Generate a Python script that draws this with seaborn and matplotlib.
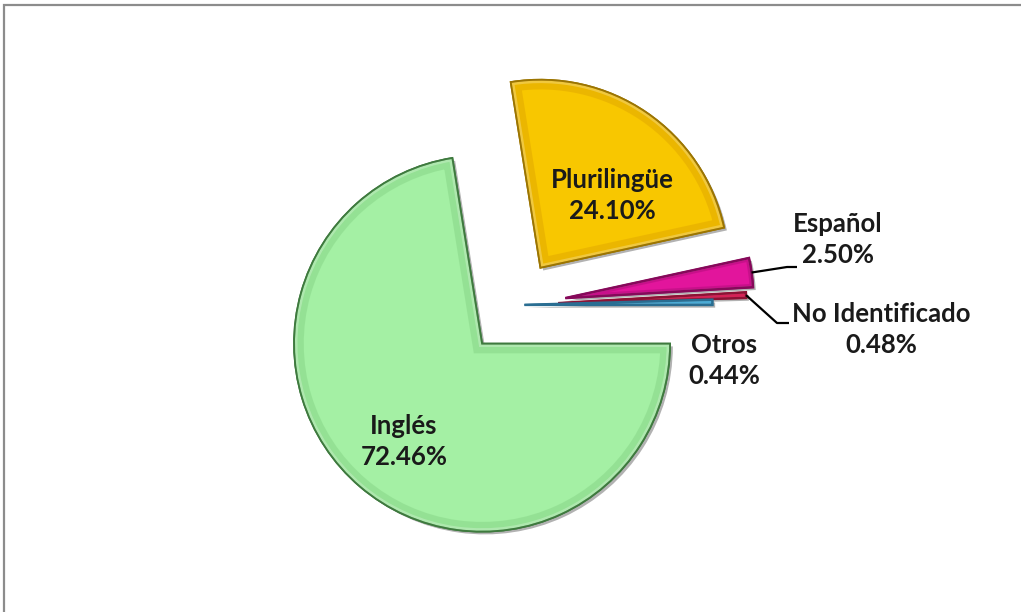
import matplotlib
matplotlib.use("Agg")
import numpy as np
import matplotlib.pyplot as plt
import seaborn as sns
from matplotlib import patheffects as pe
from matplotlib.patches import PathPatch, Rectangle

# Idioma de los documentos (porcentaje del total)
categorias = ["Inglés", "Plurilingüe", "Español", "No Identificado", "Otros"]
porcentajes = [72.46, 24.10, 2.50, 0.48, 0.44]
colores = ["#A4F0A4", "#F8C700", "#E2159C", "#EC2D66", "#5DBDE6"]
bordes = ["#3E7A3E", "#9C7500", "#86095A", "#8C1234", "#2A6E92"]
biseles = ["#86D486", "#E0A600", "#B00D7A", "#C01848", "#3D9CC8"]
separacion = [0.27, 0.24, 0.27, 0.23, 0.05]

sns.set_theme(style="white")
plt.rcParams["font.family"] = ["Lato", "DejaVu Sans"]

W, H, DPI = 1021, 612, 100
R_PX = 188.0           # pie radius in pixels
CX, CY = 515.0, 305.0  # pie centre in pixels (from top-left)


def px(x, y):
    """Pixel position (from top-left) to data coordinates of the pie axes."""
    return ((x - CX) / R_PX, (CY - y) / R_PX)


fig = plt.figure(figsize=(W / DPI, H / DPI), dpi=DPI, facecolor="white")
ax = fig.add_axes([0, 0, 1, 1])

wedges, _ = ax.pie(
    porcentajes,
    colors=colores,
    explode=separacion,
    startangle=0,
    counterclock=False,
    radius=1.0,
    wedgeprops=dict(linewidth=1.3),
)
ax.set_xlim(-CX / R_PX, (W - CX) / R_PX)
ax.set_ylim(-(H - CY) / R_PX, CY / R_PX)
ax.set_aspect("equal")
ax.axis("off")

# bevelled look: a darker inner rim clipped to each wedge, plus a soft shadow
for i, w in enumerate(wedges):
    grande = porcentajes[i] > 10
    w.set_edgecolor(bordes[i])
    w.set_path_effects([
        pe.SimplePatchShadow(offset=(2, -2), shadow_rgbFace="black", alpha=0.3),
        pe.Normal(),
    ])
    ancho = 14 if grande else 5
    rim = PathPatch(w.get_path(), transform=w.get_transform(), fill=False,
                    edgecolor=biseles[i], linewidth=ancho, alpha=0.5, zorder=w.get_zorder() + 0.1)
    rim.set_clip_path(w)
    ax.add_patch(rim)
    luz = PathPatch(w.get_path(), transform=w.get_transform(), fill=False,
                    edgecolor="white", linewidth=ancho * 0.35, alpha=0.25, zorder=w.get_zorder() + 0.2)
    luz.set_clip_path(w)
    ax.add_patch(luz)
    borde = PathPatch(w.get_path(), transform=w.get_transform(), fill=False,
                      edgecolor=bordes[i], linewidth=1.3 if grande else 1.8,
                      zorder=w.get_zorder() + 0.3)
    ax.add_patch(borde)

# label layout (pixel positions of each label block centre)
posiciones = [(404, 442), (612, 196), (838, 240), (881, 330), (724, 361)]
estilo = dict(ha="center", va="center", fontsize=18.5, fontweight="bold",
              color="#1A1A1A", linespacing=1.35, zorder=10)
for cat, val, (x, y) in zip(categorias, porcentajes, posiciones):
    ax.text(*px(x, y), f"{cat}\n{val:.2f}%", **estilo)

# leader lines from the outer edge of the thin slices to their labels
guias = {2: [(787, 267), (797, 267)], 3: [(777, 323), (789, 323)]}
for i, puntos in guias.items():
    w = wedges[i]
    ang = np.deg2rad((w.theta1 + w.theta2) / 2)
    x0 = w.center[0] + w.r * np.cos(ang)
    y0 = w.center[1] + w.r * np.sin(ang)
    xs = [x0] + [px(*p)[0] for p in puntos]
    ys = [y0] + [px(*p)[1] for p in puntos]
    ax.plot(xs, ys, color="black", lw=1.6, solid_capstyle="butt", zorder=9)

# chart area frame
fig.add_artist(Rectangle((4 / W, -0.1), 1.2, (H - 5) / H + 0.1, transform=fig.transFigure,
                         fill=False, edgecolor="#8C8C8C", linewidth=1.6))

fig.savefig("out.png", dpi=DPI, facecolor="white")
